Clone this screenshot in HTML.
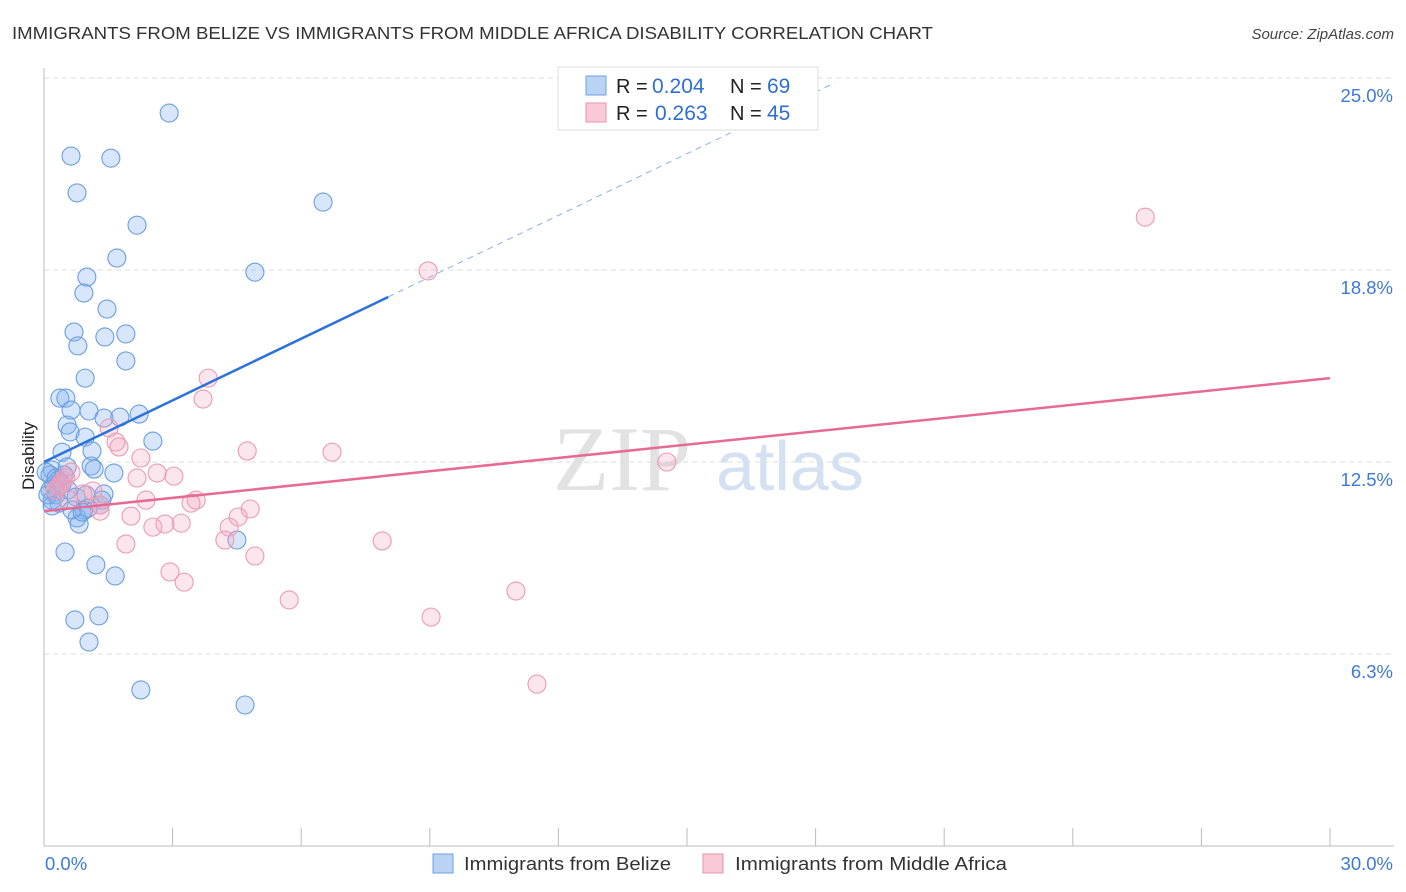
<!DOCTYPE html>
<html><head><meta charset="utf-8"><style>
body{margin:0;background:#fff;font-family:"Liberation Sans",sans-serif}
</style></head><body>
<svg id="c" width="1406" height="892" xmlns="http://www.w3.org/2000/svg" style="display:block">
<text x="12" y="39" font-size="17.5" fill="#333" textLength="921" lengthAdjust="spacingAndGlyphs">IMMIGRANTS FROM BELIZE VS IMMIGRANTS FROM MIDDLE AFRICA DISABILITY CORRELATION CHART</text>
<text x="1394" y="39" font-size="15" fill="#444" text-anchor="end" font-style="italic">Source: ZipAtlas.com</text>
<text x="553" y="490" font-size="92" fill="#e2e2e2" font-family="Liberation Serif,serif">ZIP</text>
<text x="716" y="490" font-size="70" fill="#d3e1f3">atlas</text>
<g id="grid"></g><g id="axes"></g><g id="marks"></g>
<g>
<rect x="558" y="67" width="260" height="63" fill="#fff" stroke="#ddd"/>
<rect x="586" y="76" width="20" height="19" fill="#b9d3f5" stroke="#6fa0e0"/>
<rect x="586" y="103" width="20" height="19" fill="#f9c9d7" stroke="#ea93ae"/>
<text x="616" y="93" font-size="20" fill="#222">R =</text>
<text x="652" y="93" font-size="21" fill="#2f6fd0">0.204</text>
<text x="730" y="93" font-size="20" fill="#222">N =</text>
<text x="767" y="93" font-size="21" fill="#2f6fd0">69</text>
<text x="616" y="120" font-size="20" fill="#222">R =</text>
<text x="655" y="120" font-size="21" fill="#2f6fd0">0.263</text>
<text x="730" y="120" font-size="20" fill="#222">N =</text>
<text x="767" y="120" font-size="21" fill="#2f6fd0">45</text>
</g>
<g>
<rect x="433" y="854" width="20" height="19" fill="#b9d3f5" stroke="#6fa0e0"/>
<text x="464" y="870" font-size="18" fill="#333" textLength="207" lengthAdjust="spacingAndGlyphs">Immigrants from Belize</text>
<rect x="703" y="854" width="20" height="19" fill="#f9c9d7" stroke="#ea93ae"/>
<text x="735" y="870" font-size="18" fill="#333" textLength="272" lengthAdjust="spacingAndGlyphs">Immigrants from Middle Africa</text>
</g>
<text x="34" y="456" font-size="17" fill="#222" transform="rotate(-90 34 456)" text-anchor="middle">Disability</text>
</svg>
<script>
const yTicks=[25,18.75,12.5,6.25];
const yTickLabels=["25.0%","18.8%","12.5%","6.3%"];
const blueX=[2.92,0.63,1.56,0.77,6.51,2.17,1.70,4.92,1.00,0.93,1.47,0.70,1.91,1.42,0.79,1.91,0.96,0.37,0.51,0.63,1.05,1.40,1.77,2.22,0.54,0.61,0.96,2.54,0.42,1.12,1.10,1.17,1.63,0.54,0.19,0.14,0.33,0.23,0.42,0.14,0.56,0.28,0.19,0.35,0.75,0.98,1.40,1.35,1.31,0.93,0.77,0.82,1.03,0.19,0.65,4.50,0.49,1.21,1.66,0.72,1.28,1.05,2.26,4.69,0.05,0.09,0.28,0.47,0.89];
const blueY=[23.86,22.46,22.39,21.26,20.96,20.21,19.14,18.68,18.52,18.00,17.48,16.73,16.67,16.57,16.28,15.79,15.23,14.58,14.58,14.19,14.16,13.93,13.96,14.06,13.70,13.48,13.31,13.18,12.82,12.86,12.37,12.27,12.14,12.34,12.24,12.08,11.91,11.75,11.78,11.59,11.59,11.43,11.26,11.16,11.36,11.43,11.46,11.26,11.10,10.94,10.68,10.48,11.00,11.07,10.94,9.96,9.57,9.15,8.79,7.36,7.49,6.64,5.08,4.59,12.17,11.43,11.98,12.08,10.87];
const pinkX=[25.69,8.96,3.83,3.71,4.74,6.72,14.53,1.52,1.68,1.75,2.26,2.64,3.03,2.17,0.63,0.44,0.33,1.14,0.91,0.58,2.38,3.55,3.43,4.81,4.53,2.03,1.31,3.20,2.82,2.54,4.32,4.22,1.91,7.89,4.92,2.94,3.27,11.01,5.72,9.03,11.50,0.37,0.51,1.31,0.26];
const pinkY=[20.47,18.72,15.23,14.55,12.86,12.82,12.50,13.61,13.15,12.99,12.63,12.14,12.04,11.98,12.17,11.91,11.69,11.56,11.46,11.26,11.26,11.26,11.16,10.97,10.71,10.74,10.90,10.51,10.48,10.38,10.38,9.96,9.83,9.93,9.44,8.92,8.59,8.30,8.01,7.45,5.27,11.75,11.98,11.10,11.59];
const blueTrend=[12.5,0.669];
const pinkTrend=[10.9,0.1443];
const X0=44,X1=1330,Y0=846,YS=192/6.25;
const sx=v=>X0+v/30*(X1-X0), sy=v=>Y0-v*YS;
const NS="http://www.w3.org/2000/svg";
function mk(t,a,p){const e=document.createElementNS(NS,t);for(const k in a)e.setAttribute(k,a[k]);p.appendChild(e);return e;}
const grid=document.getElementById('grid'),axes=document.getElementById('axes'),marks=document.getElementById('marks');
yTicks.forEach((t,i)=>{
 const l=mk('line',{x1:X0,x2:1394,y1:sy(t),y2:sy(t),stroke:'#ddd','stroke-dasharray':'5,4'},grid);
 
 
 const tx=mk('text',{x:1393,y:sy(t)+24,'font-size':18.5,fill:'#3d7ad6','text-anchor':'end'},grid);
 tx.textContent=yTickLabels[i];
 
 
});
const al=mk('line',{x1:X0,x2:X0,y1:68,y2:Y0,stroke:'#bbb'},axes);


const bl=mk('line',{x1:X0,x2:1394,y1:Y0,y2:Y0,stroke:'#bbb'},axes);


for(let v=0;v<=30;v+=3){
 const t=mk('line',{x1:sx(v),x2:sx(v),y1:828,y2:Y0,stroke:'#bbb'},axes);
 
 
}
[[0,"0.0%","start",45],[30,"30.0%","end",1393]].forEach(d=>{
 const t=mk('text',{x:d[3],y:870,'font-size':18.5,fill:'#3d7ad6','text-anchor':d[2]},axes);
 t.textContent=d[1];
 
 
});
blueX.forEach((x,i)=>{
 const c=mk('circle',{cx:sx(x),cy:sy(blueY[i]),r:9,fill:'rgba(130,178,238,0.32)',stroke:'#6a9ee0','stroke-width':1.1},marks);
 
 
});
pinkX.forEach((x,i)=>{
 const c=mk('circle',{cx:sx(x),cy:sy(pinkY[i]),r:9,fill:'rgba(245,165,190,0.28)',stroke:'#ec9ab3','stroke-width':1.1},marks);
 
 
});
const bt=v=>blueTrend[0]+blueTrend[1]*v, pt=v=>pinkTrend[0]+pinkTrend[1]*v;
const l1=mk('line',{x1:sx(0),y1:sy(bt(0)),x2:sx(8.03),y2:sy(bt(8.03)),stroke:'#2c72d8','stroke-width':2.5},marks);


const l2=mk('line',{x1:sx(8.03),y1:sy(bt(8.03)),x2:sx(18.45),y2:sy(bt(18.45)),stroke:'#8ab0e0','stroke-width':1,'stroke-dasharray':'6,5'},marks);


const l3=mk('line',{x1:sx(0),y1:sy(pt(0)),x2:sx(30),y2:sy(pt(30)),stroke:'#e66a93','stroke-width':2.5},marks);


</script>
</body></html>
